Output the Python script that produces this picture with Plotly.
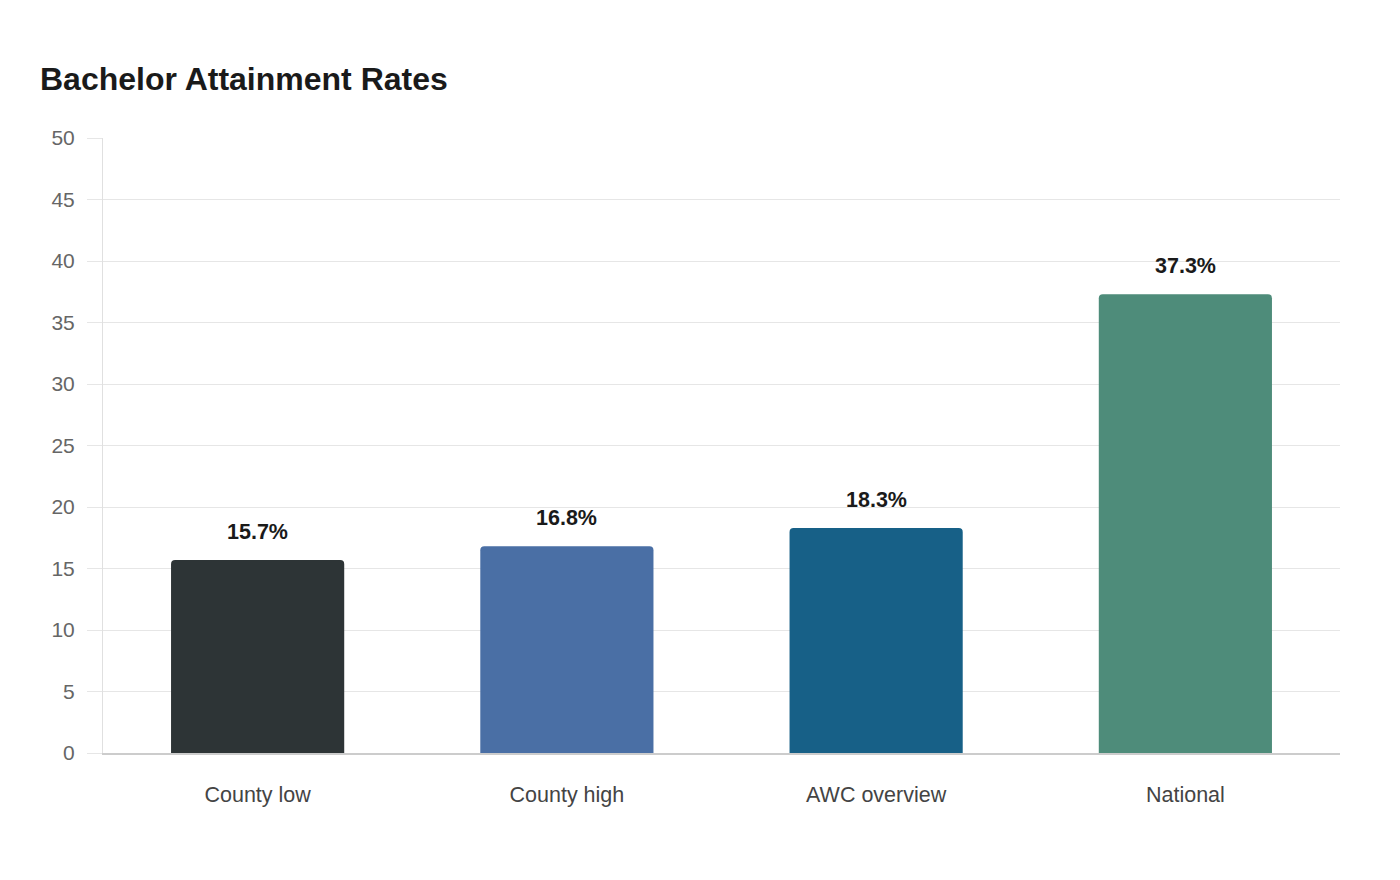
import plotly.graph_objects as go

categories = ["County low", "County high", "AWC overview", "National"]
values = [15.7, 16.8, 18.3, 37.3]
labels = ["15.7%", "16.8%", "18.3%", "37.3%"]
colors = ["#2d3436", "#4a6fa5", "#176087", "#4e8c7a"]
y_ticks = [0, 5, 10, 15, 20, 25, 30, 35, 40, 45, 50]

FONT = "Liberation Sans, Arial, sans-serif"

fig = go.Figure()
fig.add_trace(go.Bar(
    x=categories, y=values,
    marker=dict(color=colors, line=dict(width=0)),
    width=0.56,
    hoverinfo="skip",
))

for c, v, t in zip(categories, values, labels):
    fig.add_annotation(x=c, y=v, text=f"<b>{t}</b>", showarrow=False,
                       yanchor="bottom", yshift=14,
                       font=dict(family=FONT, size=21.5, color="#1a1a1a"))

fig.update_layout(
    width=1400, height=880,
    margin=dict(l=103, r=60, t=138, b=127),
    paper_bgcolor="white", plot_bgcolor="white",
    barcornerradius=4,
    showlegend=False,
    title=dict(text="<b>Bachelor Attainment Rates</b>", x=40/1400, xanchor="left",
               y=1-79/880, yanchor="middle",
               font=dict(family=FONT, size=32, color="#1a1a1a")),
    font=dict(family=FONT),
)
fig.update_yaxes(range=[0, 50], tickvals=y_ticks, showgrid=True, gridcolor="#e6e6e6",
                 gridwidth=1, zeroline=False, showline=True, linecolor="#e0e0e0",
                 ticks="outside", ticklen=15, tickcolor="#e6e6e6",
                 ticklabelstandoff=8,
                 tickfont=dict(family=FONT, size=21, color="#666666"))
fig.update_xaxes(showline=True, linecolor="#cccccc", linewidth=1.5, ticks="",
                 ticklabelstandoff=21,
                 tickfont=dict(family=FONT, size=21.5, color="#444444"))

fig.write_html("out.html")
